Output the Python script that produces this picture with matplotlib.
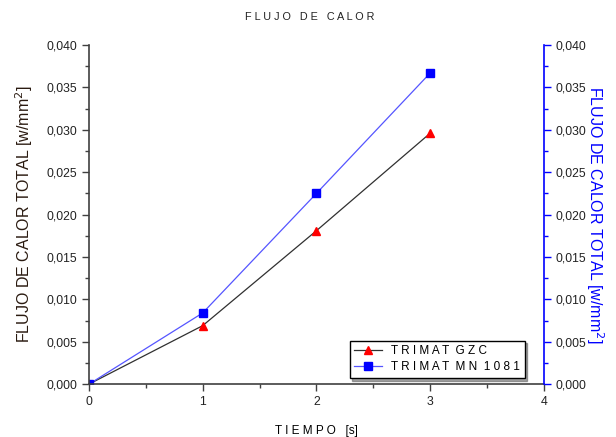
import matplotlib
matplotlib.use("Agg")
import matplotlib.pyplot as plt
from matplotlib.ticker import MultipleLocator, FuncFormatter

plt.rcParams['font.family'] = ['Liberation Sans', 'DejaVu Sans']

tiempo = [0, 1, 2, 3]
gzc = [0.0, 0.0069, 0.0181, 0.0296]
mn1081 = [0.0, 0.0084, 0.0225, 0.0367]
labels = ["T R I M A T  G Z C", "T R I M A T  M N  1 0 8 1"]

fig = plt.figure(figsize=(6.16, 4.37), dpi=100)
ax = fig.add_axes([0.1445, 0.121, 0.7385, 0.776])

ax.plot(tiempo, gzc, color='#303030', lw=0.9, marker='^', ms=6,
        mfc='red', mec='red', label=labels[0])
ax.plot(tiempo, mn1081, color='#5555ff', lw=0.9, marker='s', ms=5.5,
        mfc='blue', mec='blue', label=labels[1])

ax.set_xlim(0, 4)
ax.set_ylim(0, 0.040)
fmt = FuncFormatter(lambda v, p: f"{v:.3f}".replace('.', ','))
ax.xaxis.set_major_locator(MultipleLocator(1))
ax.xaxis.set_minor_locator(MultipleLocator(0.5))
ax.yaxis.set_major_locator(MultipleLocator(0.005))
ax.yaxis.set_minor_locator(MultipleLocator(0.0025))
ax.yaxis.set_major_formatter(fmt)
ax.tick_params(which='major', direction='out', length=5, width=1, labelsize=8.8, color='#404040', labelcolor='#222222')
ax.tick_params(which='minor', direction='out', length=3, width=1, color='#404040')
ax.spines['top'].set_visible(False)
ax.spines['right'].set_visible(False)
for s in ['left', 'bottom']:
    ax.spines[s].set_color('#404040')
    ax.spines[s].set_linewidth(1.2)

ax2 = ax.twinx()
ax2.set_ylim(0, 0.040)
ax2.yaxis.set_major_locator(MultipleLocator(0.005))
ax2.yaxis.set_minor_locator(MultipleLocator(0.0025))
ax2.yaxis.set_major_formatter(fmt)
ax2.tick_params(which='major', direction='out', length=5, width=1, labelsize=8.8, color='blue', labelcolor='#222222')
ax2.tick_params(which='minor', direction='out', length=3, width=1, color='blue')
for s in ['top', 'left', 'bottom']:
    ax2.spines[s].set_visible(False)
ax2.spines['right'].set_color('blue')
ax2.spines['right'].set_linewidth(1.2)

ax.set_xlabel("T I E M P O   [s]", fontsize=8.5, labelpad=12)
ax.set_ylabel("FLUJO DE CALOR TOTAL [w/mm$^2$]", fontsize=11.5, color='#2a1a10', labelpad=8)
ax2.set_ylabel("FLUJO DE CALOR TOTAL [w/mm$^2$]", fontsize=11.5, color='blue',
               rotation=270, labelpad=14)

fig.text(0.503, 0.962, "F L U J O   D E   C A L O R", ha='center', va='center', fontsize=7.8, color='#222222')

leg = ax.legend(loc='lower left', bbox_to_anchor=(0.56, 0.0), fontsize=8.5,
                frameon=True, fancybox=False, shadow=True, edgecolor='black',
                handlelength=2.3, borderpad=0.4, labelspacing=0.35)
leg.get_frame().set_linewidth(1.0)

fig.savefig("out.png", dpi=100)
